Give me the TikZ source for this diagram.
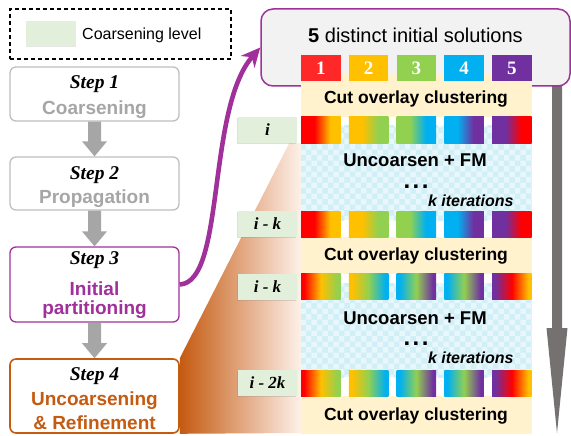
\documentclass[tikz,border=0pt]{standalone}
\usepackage{fontspec}
\setmainfont{Liberation Serif}
\setsansfont{Liberation Sans}
\usetikzlibrary{calc,patterns,shadows,arrows.meta}

\definecolor{cRed}{HTML}{FF0000}
\definecolor{cOrg}{HTML}{FFC000}
\definecolor{cGrn}{HTML}{92D050}
\definecolor{cBlu}{HTML}{00B0F0}
\definecolor{cPur}{HTML}{7030A0}
\definecolor{sqRed}{HTML}{FF2828}
\definecolor{stepGray}{HTML}{A6A6A6}
\definecolor{boxGray}{HTML}{BFBFBF}
\definecolor{initPurple}{HTML}{A0309A}
\definecolor{refOrange}{HTML}{C55A11}
\definecolor{levelGreen}{HTML}{E2EFDA}
\definecolor{bandYellow}{HTML}{FFF2CC}
\definecolor{bandCyan}{HTML}{E8F7FB}
\definecolor{checkCyan}{HTML}{D0EFF7}
\definecolor{flowGray}{HTML}{767171}
\definecolor{panelGray}{HTML}{F2F2F2}
\definecolor{wedgeLight}{HTML}{FDF1EA}

% colour bands of the partition strips
\colorlet{gA}{red}\colorlet{gB}{red}\colorlet{gC}{red}
\pgfdeclarehorizontalshading[gA,gB]{duoband}{100bp}{color(0bp)=(gA); color(42bp)=(gA); color(62bp)=(gB); color(100bp)=(gB)}
\pgfdeclarehorizontalshading[gA,gB,gC]{triband}{100bp}{color(0bp)=(gA); color(29bp)=(gA); color(50bp)=(gB); color(71bp)=(gC); color(100bp)=(gC)}

\newcommand\duoblock[4]{% left x, top y, two colours
  \colorlet{gA}{#3}\colorlet{gB}{#4}%
  \shade[shading=duoband] (#1,#2) rectangle ++(39.5,26);}
\newcommand\triblock[5]{% left x, top y, three colours
  \colorlet{gA}{#3}\colorlet{gB}{#4}\colorlet{gC}{#5}%
  \shade[shading=triband] (#1,#2) rectangle ++(39.5,26);}

% block arrow between two stacked nodes
\newcommand\stepconnector[2]{%
  \fill[stepGray] let \p1=(#1.south), \p2=(#2.north) in
    (\x1-6.5pt,\y1) -- (\x1+6.5pt,\y1) -- (\x1+6.5pt,\y2+15pt) -- (\x1+12.5pt,\y2+15pt)
    -- (\x2,\y2) -- (\x1-12.5pt,\y2+15pt) -- (\x1-6.5pt,\y2+15pt) -- cycle;}

\pgfdeclarelayer{background}
\pgfsetlayers{background,main}

\begin{document}
\begin{tikzpicture}[x=1pt,y=-1pt,
  stepbox/.style={draw, rounded corners=6pt, line width=1.3pt, fill=white,
    minimum width=169pt, inner sep=0pt},
  steptitle/.style={anchor=base, font=\fontsize{19.5}{22}\selectfont\bfseries\itshape},
  stepname/.style={anchor=base, font=\sffamily\bfseries\fontsize{19}{22}\selectfont},
  numsq/.style={minimum width=39.5pt, minimum height=26pt, inner sep=0pt, text=white,
    font=\fontsize{19}{20}\selectfont\bfseries},
  lvl/.style={fill=levelGreen, minimum width=59pt, minimum height=26pt, inner sep=0pt,
    font=\fontsize{17}{18}\selectfont\bfseries\itshape,
    drop shadow={shadow xshift=-1pt, shadow yshift=-1.2pt, opacity=0.25}},
  cuttext/.style={anchor=base, font=\sffamily\bfseries\fontsize{17.5}{20}\selectfont},
  fmtext/.style={font=\sffamily\bfseries\fontsize{18.5}{20}\selectfont},
  dotstext/.style={anchor=base, inner sep=0pt, font=\sffamily\bfseries\fontsize{24}{24}\selectfont},
  itertext/.style={anchor=east, font=\sffamily\bfseries\itshape\fontsize{16}{18}\selectfont},
]
\useasboundingbox (0,0) rectangle (571,436);

% legend
\node[draw, dash pattern=on 4pt off 3pt, line width=1.1pt, minimum width=221pt,
  minimum height=50pt, inner sep=0pt] (legend) at (120.5,34) {};
\node[fill=levelGreen, minimum width=50pt, minimum height=25pt, inner sep=0pt,
  drop shadow={shadow xshift=0pt, shadow yshift=-1.5pt, opacity=0.2}] (swatch) at (51,33.5) {};
\node[anchor=base west, inner sep=0pt, font=\sffamily\fontsize{16}{18}\selectfont]
  (legendtext) at (82,39.5) {Coarsening level};

% the four steps
\node[stepbox, draw=boxGray, minimum height=54pt] (s1) at (94.5,94) {};
\node[stepbox, draw=boxGray, minimum height=53pt] (s2) at (94.5,183.5) {};
\node[stepbox, draw=initPurple, minimum height=75pt] (s3) at (94.5,284.5) {};
\node[stepbox, draw=refOrange, line width=1.6pt, minimum height=74pt] (s4) at (94.5,396) {};

\node[steptitle] (s1t) at (94.5,89) {Step 1};
\node[stepname, text=stepGray] (s1n) at (94.5,114.3) {Coarsening};
\node[steptitle] (s2t) at (94.5,179.6) {Step 2};
\node[stepname, text=stepGray] (s2n) at (94.5,203.5) {Propagation};
\node[steptitle] (s3t) at (94.5,264.6) {Step 3};
\node[stepname, text=initPurple] (s3n) at (94.5,295.3) {Initial};
\node[stepname, text=initPurple] (s3m) at (94.5,314) {partitioning};
\node[steptitle] (s4t) at (94.5,380.7) {Step 4};
\node[stepname, text=refOrange] (s4n) at (94.5,405.7) {Uncoarsening};
\node[stepname, text=refOrange] (s4m) at (94.5,429) {\& Refinement};

\stepconnector{s1}{s2}
\stepconnector{s2}{s3}
\stepconnector{s3}{s4}

% level tags
\node[lvl] (l1) at (267.5,130) {i};
\node[lvl] (l2) at (267.5,224) {i - k};
\node[lvl] (l3) at (267.5,286.5) {i - k};
\node[lvl] (l4) at (267.5,383) {i - 2k};

% widening wedge from step 4 into the refinement panel
\coordinate (wedgetop) at ($(l1.south east)+(-8,0)$);
\begin{pgfonlayer}{background}
\shade[left color=refOrange, right color=wedgeLight]
  (s4.north east) -- (wedgetop) -- (301,143) -- (301,433) -- (s4.south east) -- cycle;
\end{pgfonlayer}

% downward flow arrow on the right
\coordinate (flowtop) at (557,86);
\coordinate (flowend) at (557,433);
\fill[flowGray] let \p1=(flowtop), \p2=(flowend) in
  (\x1-5pt,\y1) -- (\x1+5pt,\y1) -- (\x1+5pt,\y2+105pt) -- (\x1+10.5pt,\y2+105pt)
  -- (\x2,\y2) -- (\x1-10.5pt,\y2+105pt) -- (\x1-5pt,\y2+105pt) -- cycle;

% initial solutions box
\node[draw=initPurple, line width=1.5pt, fill=panelGray, rounded corners=12pt,
  minimum width=309pt, minimum height=77pt, inner sep=0pt] (sol) at (415.5,47.5) {};
\node[font=\sffamily\fontsize{20}{22}\selectfont] (soltext) at (415.5,35)
  {\textbf{5} distinct initial solutions};

% panel backgrounds
\fill[bandYellow] (301,74) rectangle (531.5,117);
\fill[bandYellow] (301,237) rectangle (531.5,273.5);
\fill[bandYellow] (301,396) rectangle (531.5,434);
\fill[bandCyan] (301,126) rectangle (531.5,220);
\fill[pattern=checkerboard, pattern color=checkCyan] (301,126) rectangle (531.5,220);
\fill[bandCyan] (301,283) rectangle (531.5,377);
\fill[pattern=checkerboard, pattern color=checkCyan] (301,283) rectangle (531.5,377);

% numbered solutions
\node[numsq, fill=sqRed] (n1) at (320.75,68) {1};
\node[numsq, fill=cOrg] (n2) at (368.5,68) {2};
\node[numsq, fill=cGrn] (n3) at (416.25,68) {3};
\node[numsq, fill=cBlu] (n4) at (464,68) {4};
\node[numsq, fill=cPur] (n5) at (511.75,68) {5};

% level i
\duoblock{301}{117}{cRed}{cOrg}
\duoblock{348.75}{117}{cOrg}{cGrn}
\duoblock{396.5}{117}{cGrn}{cBlu}
\duoblock{444.25}{117}{cBlu}{cPur}
\duoblock{492}{117}{cPur}{cRed}
% level i - k, before clustering
\duoblock{301}{211}{cRed}{cOrg}
\duoblock{348.75}{211}{cOrg}{cGrn}
\duoblock{396.5}{211}{cGrn}{cBlu}
\duoblock{444.25}{211}{cBlu}{cPur}
\duoblock{492}{211}{cPur}{cRed}
% level i - k, after clustering
\triblock{301}{273.5}{cRed}{cOrg}{cGrn}
\triblock{348.75}{273.5}{cOrg}{cGrn}{cBlu}
\triblock{396.5}{273.5}{cBlu}{cGrn}{cPur}
\triblock{444.25}{273.5}{cBlu}{cGrn}{cPur}
\triblock{492}{273.5}{cPur}{cRed}{cOrg}
% level i - 2k
\triblock{301}{370}{cRed}{cOrg}{cGrn}
\triblock{348.75}{370}{cOrg}{cGrn}{cBlu}
\triblock{396.5}{370}{cBlu}{cGrn}{cPur}
\triblock{444.25}{370}{cBlu}{cGrn}{cPur}
\triblock{492}{370}{cPur}{cRed}{cOrg}

% panel texts
\node[cuttext] (c1) at (416,104) {Cut overlay clustering};
\node[cuttext] (c2) at (416,260.3) {Cut overlay clustering};
\node[cuttext] (c3) at (416,420.3) {Cut overlay clustering};
\node[fmtext] (u1) at (415,160) {Uncoarsen + FM};
\node[fmtext] (u2) at (415,318) {Uncoarsen + FM};
\node[dotstext] (d1) at (416,188) {.\hspace{2.5pt}.\hspace{2.5pt}.};
\node[dotstext] (d2) at (416,345) {.\hspace{2.5pt}.\hspace{2.5pt}.};
\node[itertext] (k1) at (517,201) {k iterations};
\node[itertext] (k2) at (517,358) {k iterations};

% step 3 feeds the initial solutions
\draw[line width=4.6pt, initPurple, -{Stealth[length=19pt,width=18pt]}]
  (s3.east) .. controls +(46,-2) and +(-54,62) .. (sol.west);
\end{tikzpicture}
\end{document}
